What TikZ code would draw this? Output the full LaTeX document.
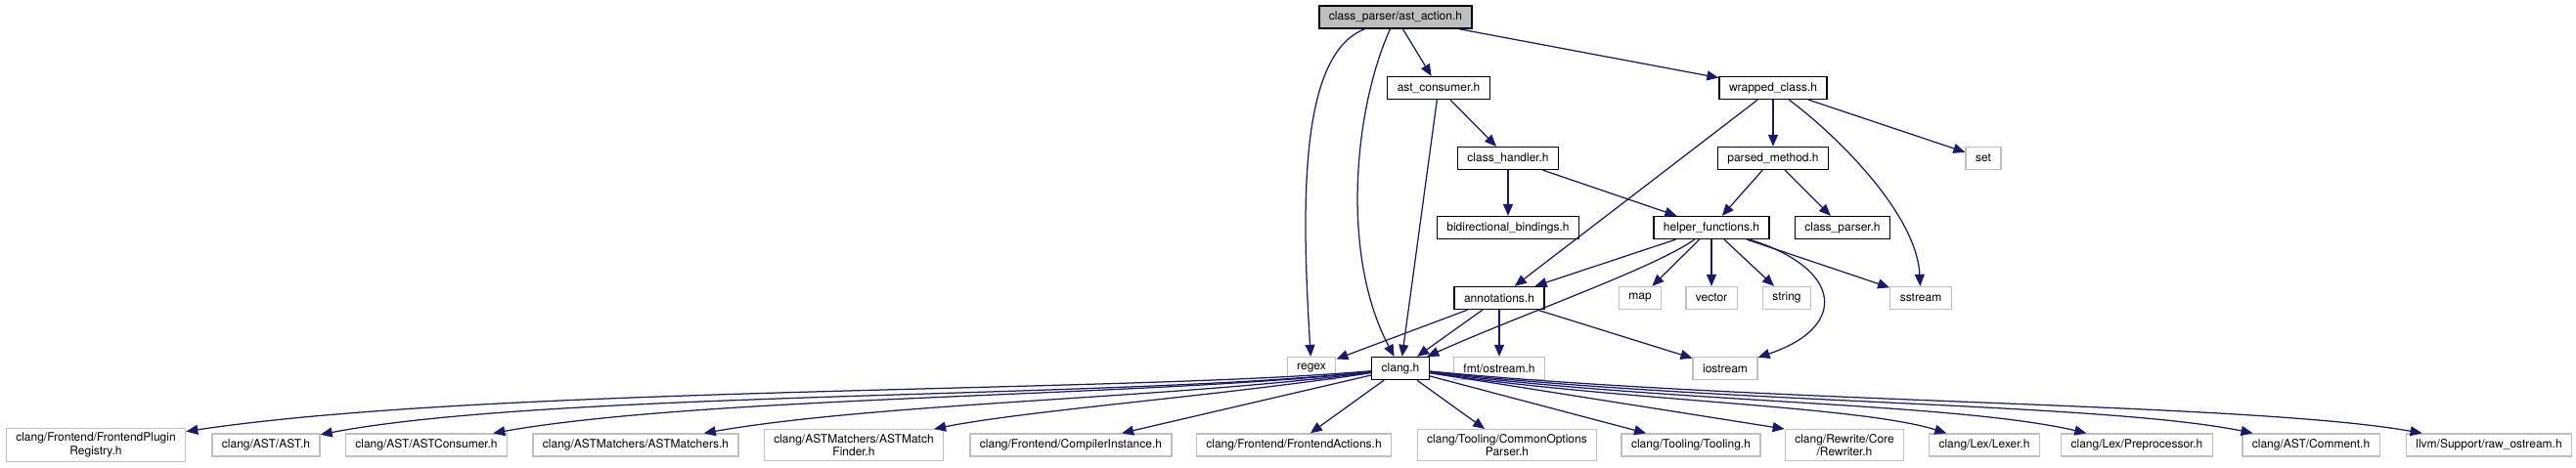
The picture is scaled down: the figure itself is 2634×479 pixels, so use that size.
\documentclass[tikz,border=0pt]{standalone}
\usepackage{fontspec}
\setsansfont{TeX Gyre Heros}
\usetikzlibrary{arrows.meta}
\definecolor{InclInk}{HTML}{000000}
\definecolor{InclGrey}{HTML}{BFBFBF}
\definecolor{InclEdge}{HTML}{191970}
\tikzset{
  incl text/.style={font=\sffamily\fontsize{12}{13.5}\selectfont, text=InclInk},
  incl box/.style={incl text, rectangle, line width=1.3pt, minimum height=23pt,
    inner xsep=10pt, inner ysep=4.5pt, align=center},
  incl file/.style={incl box, draw=InclInk},
  incl root/.style={incl box, draw=InclInk, fill=InclGrey},
  incl system/.style={incl box, draw=InclGrey},
  incl edge/.style={draw=InclEdge, line width=1.25pt, -{Triangle[length=12pt,width=10pt]}},
}

\begin{document}
\begin{tikzpicture}[x=1pt,y=-1pt]
  \useasboundingbox (0,0) rectangle (2634,479);

  % 0 — the file itself
  \node[incl root] (astaction) at (1427,17.5) {class\_parser/ast\_action.h};

  % 1 — direct includes
  \node[incl file] (astconsumer) at (1471,90) {ast\_consumer.h};
  \node[incl file] (wrappedclass) at (1813,90) {wrapped\_class.h};

  % 2
  \node[incl file] (classhandler) at (1542,162) {class\_handler.h};
  \node[incl file] (parsedmethod) at (1813,162) {parsed\_method.h};
  \node[incl system] (sysset) at (2028,162) {set};

  % 3
  \node[incl file] (bidibindings) at (1542,233) {bidirectional\_bindings.h};
  \node[incl file] (helperfuncs) at (1750,233) {helper\_functions.h};
  \node[incl file] (classparser) at (1884,233) {class\_parser.h};

  % 4
  \node[incl file] (annotations) at (1533,305) {annotations.h};
  \node[incl system] (sysmap) at (1677,305) {map};
  \node[incl system] (sysvector) at (1750,305) {vector};
  \node[incl system] (sysstring) at (1827,305) {string};
  \node[incl system] (syssstream) at (1964,305) {sstream};

  % 5
  \node[incl system] (sysregex) at (1341,377) {regex};
  \node[incl file] (clang) at (1432,377) {clang.h};
  \node[incl system] (fmtostream) at (1533,377) {fmt/ostream.h};
  \node[incl system] (sysiostream) at (1764,377) {iostream};

  % 6 — clang and llvm headers
  \node[incl system] (fepluginreg) at (98,455.5) {clang/Frontend/FrontendPlugin\\Registry.h};
  \node[incl system] (asth) at (272,455.5) {clang/AST/AST.h};
  \node[incl system] (astconsumerh) at (436,455.5) {clang/AST/ASTConsumer.h};
  \node[incl system] (astmatchers) at (650,455.5) {clang/ASTMatchers/ASTMatchers.h};
  \node[incl system] (astmatchfinder) at (873,455.5) {clang/ASTMatchers/ASTMatch\\Finder.h};
  \node[incl system] (compinstance) at (1095,455.5) {clang/Frontend/CompilerInstance.h};
  \node[incl system] (feactions) at (1323,455.5) {clang/Frontend/FrontendActions.h};
  \node[incl system] (commonopts) at (1541,455.5) {clang/Tooling/CommonOptions\\Parser.h};
  \node[incl system] (tooling) at (1729,455.5) {clang/Tooling/Tooling.h};
  \node[incl system] (rewriter) at (1886,455.5) {clang/Rewrite/Core\\/Rewriter.h};
  \node[incl system] (lexer) at (2029,455.5) {clang/Lex/Lexer.h};
  \node[incl system] (preproc) at (2185,455.5) {clang/Lex/Preprocessor.h};
  \node[incl system] (commenth) at (2363,455.5) {clang/AST/Comment.h};
  \node[incl system] (rawostream) at (2545,455.5) {llvm/Support/raw\_ostream.h};

  % edges from the root
  \draw[incl edge] (astaction) -- (astconsumer);
  \draw[incl edge] (astaction) -- (wrappedclass);
  \draw[incl edge] (astaction) .. controls (1330,55) and (1330,200) .. (sysregex);
  \draw[incl edge] (astaction) .. controls (1385,110) and (1370,260) .. (clang);

  \draw[incl edge] (astconsumer) -- (classhandler);
  \draw[incl edge] (astconsumer) -- (clang);
  \draw[incl edge] (classhandler) -- (bidibindings);
  \draw[incl edge] (classhandler) -- (helperfuncs);

  \draw[incl edge] (wrappedclass) -- (parsedmethod);
  \draw[incl edge] (wrappedclass) -- (annotations);
  \draw[incl edge] (wrappedclass) .. controls (1880,140) and (1960,220) .. (syssstream);
  \draw[incl edge] (wrappedclass) -- (sysset);
  \draw[incl edge] (parsedmethod) -- (helperfuncs);
  \draw[incl edge] (parsedmethod) -- (classparser);

  % helper_functions.h
  \draw[incl edge] (helperfuncs) -- (annotations);
  \draw[incl edge] (helperfuncs) .. controls (1690,275) and (1560,320) .. (clang);
  \draw[incl edge] (helperfuncs) -- (sysmap);
  \draw[incl edge] (helperfuncs) -- (sysvector);
  \draw[incl edge] (helperfuncs) -- (sysstring);
  \draw[incl edge] (helperfuncs) -- (syssstream);
  \draw[incl edge] (helperfuncs) .. controls (1885,275) and (1890,335) .. (sysiostream);

  % annotations.h
  \draw[incl edge] (annotations) -- (sysregex);
  \draw[incl edge] (annotations) -- (clang);
  \draw[incl edge] (annotations) -- (fmtostream);
  \draw[incl edge] (annotations) -- (sysiostream);

  % clang.h fans out
  \draw[incl edge] (clang) .. controls (1150,402) and (500,395) .. (fepluginreg);
  \draw[incl edge] (clang) .. controls (1150,408) and (560,400) .. (asth);
  \draw[incl edge] (clang) .. controls (1180,406) and (720,405) .. (astconsumerh);
  \draw[incl edge] (clang) .. controls (1200,408) and (900,412) .. (astmatchers);
  \draw[incl edge] (clang) .. controls (1250,405) and (1050,420) .. (astmatchfinder);
  \draw[incl edge] (clang) -- (compinstance);
  \draw[incl edge] (clang) -- (feactions);
  \draw[incl edge] (clang) -- (commonopts);
  \draw[incl edge] (clang) -- (tooling);
  \draw[incl edge] (clang) -- (rewriter.north west);
  \draw[incl edge] (clang) .. controls (1650,410) and (1900,415) .. (lexer);
  \draw[incl edge] (clang) .. controls (1700,412) and (2000,412) .. (preproc);
  \draw[incl edge] (clang) .. controls (1750,413) and (2150,412) .. (commenth);
  \draw[incl edge] (clang) .. controls (1800,413) and (2300,412) .. (rawostream);
\end{tikzpicture}
\end{document}
